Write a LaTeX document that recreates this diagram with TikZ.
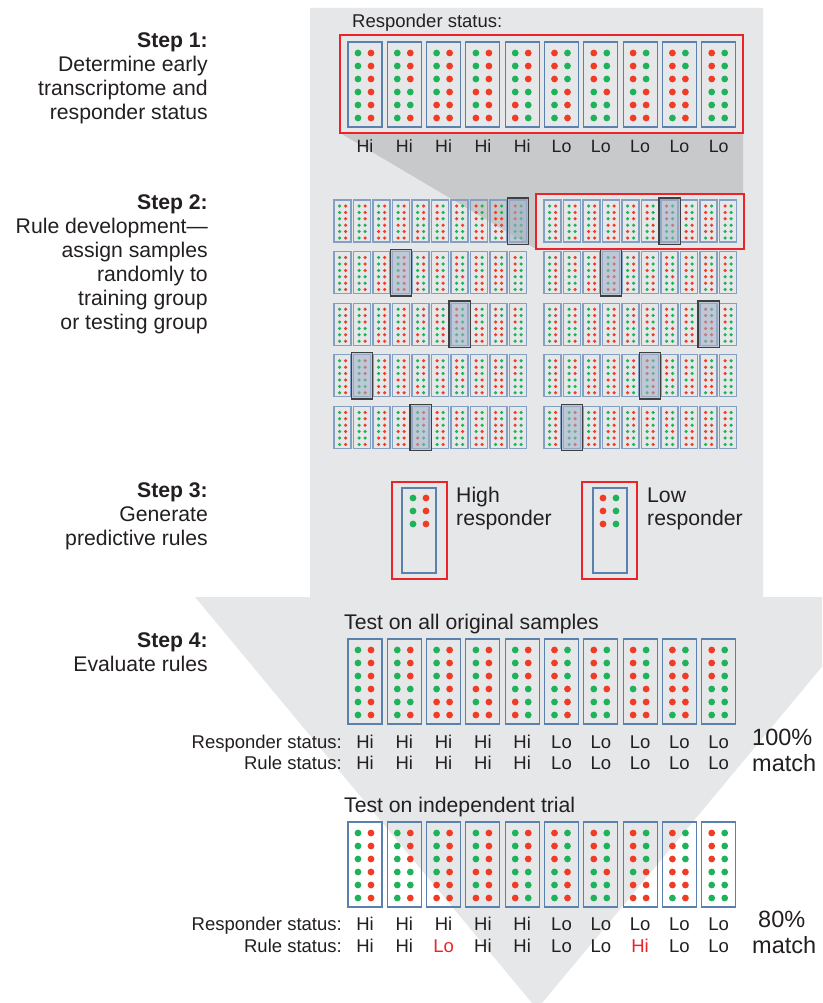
\documentclass[tikz,border=0pt]{standalone}
\usepackage{fontspec}
\setmainfont{Liberation Sans}
\definecolor{bg}{HTML}{E6E7E9}
\definecolor{cardblue}{HTML}{5A80AE}
\definecolor{boxred}{HTML}{EE2229}
\definecolor{dotgreen}{HTML}{1EB25A}
\definecolor{dotred}{HTML}{F03C24}
\definecolor{txt}{HTML}{231F20}
\definecolor{hlfill}{HTML}{9FB0C8}
\def\pA{g,r,g,r,g,r,g,r,g,r,g,r}
\def\pB{g,r,g,r,g,r,g,g,g,g,g,r}
\def\pC{g,r,g,r,g,r,g,r,r,r,r,r}
\def\pD{g,r,g,r,g,r,r,r,g,r,r,r}
\def\pE{g,r,g,r,g,r,g,g,r,g,r,g}
\def\pF{r,g,r,g,r,g,g,r,g,r,g,r}
\def\pG{r,g,r,g,r,g,g,r,g,g,g,g}
\def\pH{r,g,r,g,r,g,g,r,r,r,r,r}
\def\pI{r,g,r,g,r,r,r,r,r,r,g,r}
\def\pJ{r,g,r,g,r,g,g,g,g,g,g,g}
\def\pK{r,g,r,g,r,g,r,r,r,r,g,r}
\newcommand\bigcard[3]{%
  \draw[bigcardst] (#1,#2) rectangle ++(34,85);
  \edef\plist{\csname p#3\endcsname}%
  \foreach \dc [count=\di from 0] in \plist {%
    \pgfmathtruncatemacro\rr{div(\di,2)}%
    \pgfmathtruncatemacro\cc{mod(\di,2)}%
    \fill[dot\dc] ({#1+10+13*\cc},{#2+11+13*\rr}) circle (3.4);
  }}
\newcommand\smallcard[3]{%
  \draw[smallcardst] (#1,#2) rectangle ++(17,42);
  \edef\plist{\csname p#3\endcsname}%
  \foreach \dc [count=\di from 0] in \plist {%
    \pgfmathtruncatemacro\rr{div(\di,2)}%
    \pgfmathtruncatemacro\cc{mod(\di,2)}%
    \fill[dot\dc] ({#1+5.6+6*\cc},{#2+6+6.4*\rr}) circle (1.75);
  }}
\begin{document}
\begin{tikzpicture}[x=1pt,y=-1pt,
  bigcardst/.style={draw=cardblue,line width=1.1pt},
  smallcardst/.style={draw=cardblue!75,line width=1.3pt},
  dotg/.style={fill=dotgreen},
  dotr/.style={fill=dotred},
  redbox/.style={draw=boxred,line width=2.4pt},
  hl/.style={draw=black!75,line width=1.4pt,fill=hlfill,fill opacity=0.55},
  lbl/.style={inner sep=0pt,text=txt,font=\fontsize{21.2}{25}\selectfont},
  steplbl/.style={lbl,anchor=base east},
  hilo/.style={inner sep=0pt,text=txt,anchor=base,font=\fontsize{17.8}{20}\selectfont},
  stat/.style={inner sep=0pt,text=txt,font=\fontsize{18.5}{21}\selectfont},
  big/.style={inner sep=0pt,text=txt,anchor=base west,font=\fontsize{23.5}{27}\selectfont}]
\clip (0,0) rectangle (822,1003);
\fill[white] (0,0) rectangle (822,1003);
% big arrow
\fill[bg] (310,8) -- (763,8) -- (763,597) -- (880,597) -- (537,1009) -- (195,597) -- (310,597) -- cycle;
% funnel
\fill[black,fill opacity=0.13] (340,133) -- (743,133) -- (743,194) -- (536,194) -- (536,249) -- cycle;

% step labels
\node[steplbl] (s1) at (208,48) {\textbf{Step 1:}};
\node[steplbl] (s1a) at (208,72) {Determine early};
\node[steplbl] (s1b) at (208,96) {transcriptome and};
\node[steplbl] (s1c) at (208,120) {responder status};
\node[steplbl] (s2) at (208,209) {\textbf{Step 2:}};
\node[steplbl] (s2a) at (208,233) {Rule development---};
\node[steplbl] (s2b) at (208,257) {assign samples};
\node[steplbl] (s2c) at (208,281) {randomly to};
\node[steplbl] (s2d) at (208,305) {training group};
\node[steplbl] (s2e) at (208,329) {or testing group};
\node[steplbl] (s3) at (208,497) {\textbf{Step 3:}};
\node[steplbl] (s3a) at (208,521) {Generate};
\node[steplbl] (s3b) at (208,545) {predictive rules};
\node[steplbl] (s4) at (208,647) {\textbf{Step 4:}};
\node[steplbl] (s4a) at (208,671) {Evaluate rules};

% step 1
\node[stat,anchor=base west] (rs) at (352,28) {Responder status:};
\foreach \p [count=\k from 0] in {A,B,C,D,E,F,G,H,I,J} {
  \bigcard{348+39.3*\k}{42}{\p}
}
\draw[redbox] (340,35) rectangle (743,133);
\foreach \t [count=\k from 0] in {Hi,Hi,Hi,Hi,Hi,Lo,Lo,Lo,Lo,Lo} {
  \node[hilo] at (365+39.3*\k,153) {\t};
}

% step 2
\foreach \r in {0,...,4} {
  \foreach \p [count=\k from 0] in {A,B,C,D,E,F,G,H,I,J} {
    \smallcard{334+19.5*\k}{200+51.6*\r}{\p}
    \smallcard{544+19.5*\k}{200+51.6*\r}{\p}
  }
}
\foreach \gx/\k/\r in {334/9/0, 544/6/0, 334/3/1, 544/3/1, 334/6/2, 544/8/2, 334/1/3, 544/5/3, 334/4/4, 544/1/4} {
  \draw[hl] ({\gx+19.5*\k-2.2},{200+51.6*\r-2.2}) rectangle ++(21.4,46.4);
}
\draw[redbox] (536,194) rectangle (744,249);

% step 3
\draw[redbox] (392,482) rectangle (447,579);
\draw[bigcardst] (402,488) rectangle (436,573);
\foreach \yy in {498,511,524} {
  \fill[dotg] (413,\yy) circle (3.4); \fill[dotr] (426,\yy) circle (3.4);
}
\node[lbl,anchor=base west] (hr1) at (456,502) {High};
\node[lbl,anchor=base west] (hr2) at (456,525) {responder};
\draw[redbox] (582,482) rectangle (637,579);
\draw[bigcardst] (593,488) rectangle (627,573);
\foreach \yy in {498,511,524} {
  \fill[dotr] (603,\yy) circle (3.4); \fill[dotg] (616,\yy) circle (3.4);
}
\node[lbl,anchor=base west] (lr1) at (647,502) {Low};
\node[lbl,anchor=base west] (lr2) at (647,525) {responder};

% step 4, set 1
\node[lbl,anchor=base west] (t1) at (344,629) {Test on all original samples};
\foreach \p [count=\k from 0] in {A,B,C,D,E,F,G,H,I,J} {
  \bigcard{348+39.3*\k}{639}{\p}
}
\node[stat,anchor=base east] (r1) at (342,748) {Responder status:};
\node[stat,anchor=base east] (u1) at (342,769) {Rule status:};
\foreach \t [count=\k from 0] in {Hi,Hi,Hi,Hi,Hi,Lo,Lo,Lo,Lo,Lo} {
  \node[stat,anchor=base] at (365+39.3*\k,748) {\t};
  \node[stat,anchor=base] at (365+39.3*\k,769) {\t};
}
\node[big] (m1a) at (752,745) {100\%};
\node[big] (m1b) at (752,771) {match};

% step 4, set 2
\node[lbl,anchor=base west] (t2) at (344,812) {Test on independent trial};
\foreach \p [count=\k from 0] in {A,B,C,D,E,F,G,H,K,J} {
  \bigcard{348+39.3*\k}{822}{\p}
}
\node[stat,anchor=base east] (r2) at (342,930) {Responder status:};
\node[stat,anchor=base east] (u2) at (342,952) {Rule status:};
\foreach \t [count=\k from 0] in {Hi,Hi,Hi,Hi,Hi,Lo,Lo,Lo,Lo,Lo} {
  \node[stat,anchor=base] at (365+39.3*\k,930) {\t};
}
\foreach \t/\cl [count=\k from 0] in {Hi/txt,Hi/txt,Lo/boxred,Hi/txt,Hi/txt,Lo/txt,Lo/txt,Hi/boxred,Lo/txt,Lo/txt} {
  \node[stat,anchor=base,text=\cl] at (365+39.3*\k,952) {\t};
}
\node[big] (m2a) at (758,927) {80\%};
\node[big] (m2b) at (752,953) {match};
\end{tikzpicture}
\end{document}
